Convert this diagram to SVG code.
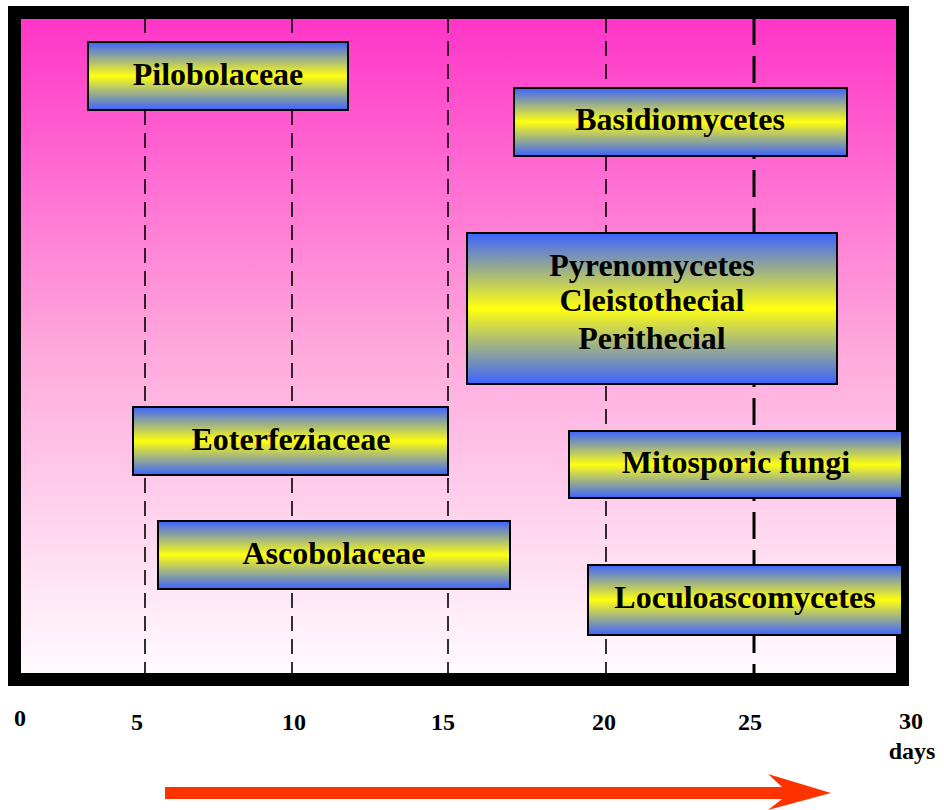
<svg xmlns="http://www.w3.org/2000/svg" width="944" height="810" viewBox="0 0 944 810">
<defs>
<linearGradient id="bg" x1="0" y1="0" x2="0" y2="1">
<stop offset="0" stop-color="#ff33c8"/>
<stop offset="0.5" stop-color="#ffa8dc"/>
<stop offset="1" stop-color="#fffdfe"/>
</linearGradient>
<linearGradient id="box" x1="0" y1="0" x2="0" y2="1">
<stop offset="0" stop-color="#3c62ff"/>
<stop offset="0.5" stop-color="#ffff10"/>
<stop offset="1" stop-color="#3c62ff"/>
</linearGradient>
<style>
.grid{stroke:#000;stroke-width:1.6;stroke-dasharray:15 8;fill:none}
.grid25{stroke:#000;stroke-width:3;stroke-dasharray:27 11;fill:none}
.node rect{fill:url(#box);stroke:#000;stroke-width:2}
.node text{font-family:"Liberation Serif","Times New Roman",serif;font-weight:bold;font-size:32px;text-anchor:middle;fill:#000}
.axis{font-family:"Liberation Serif","Times New Roman",serif;font-weight:bold;font-size:24px;text-anchor:middle;fill:#000}
</style>
</defs>
<rect x="14" y="12" width="889" height="668" fill="url(#bg)"/>
<g id="gridlines">
<line class="grid" x1="145" y1="18" x2="145" y2="674"/>
<line class="grid" x1="292" y1="18" x2="292" y2="674"/>
<line class="grid" x1="448" y1="18" x2="448" y2="674"/>
<line class="grid" x1="606" y1="18" x2="606" y2="674"/>
<line class="grid25" x1="754" y1="18" x2="754" y2="674"/>
</g>
<rect id="frame" x="14.5" y="12.5" width="888" height="667" fill="none" stroke="#000" stroke-width="13"/>
<g id="pilobolaceae" class="node"><rect x="88" y="42" width="260" height="68"/><text x="218" y="85">Pilobolaceae</text></g>
<g id="basidiomycetes" class="node"><rect x="514" y="88" width="333" height="68"/><text x="680" y="130">Basidiomycetes</text></g>
<g id="pyrenomycetes" class="node"><rect x="467" y="233" width="370" height="151"/><text x="652" y="276">Pyrenomycetes</text><text x="652" y="311">Cleistothecial</text><text x="652" y="349">Perithecial</text></g>
<g id="eoterfeziaceae" class="node"><rect x="133" y="407" width="315" height="68"/><text x="291" y="450">Eoterfeziaceae</text></g>
<g id="mitosporic" class="node"><rect x="569" y="431" width="333" height="67"/><text x="736" y="473">Mitosporic fungi</text></g>
<g id="ascobolaceae" class="node"><rect x="158" y="521" width="352" height="68"/><text x="334" y="564">Ascobolaceae</text></g>
<g id="loculoascomycetes" class="node"><rect x="588" y="565" width="314" height="70"/><text x="745" y="608">Loculoascomycetes</text></g>
<g id="axis">
<text class="axis" x="20" y="726">0</text>
<text class="axis" x="137" y="730">5</text>
<text class="axis" x="294" y="730">10</text>
<text class="axis" x="443" y="730">15</text>
<text class="axis" x="604" y="730">20</text>
<text class="axis" x="750" y="730">25</text>
<text class="axis" x="911" y="729">30</text>
<text class="axis" x="912" y="759">days</text>
</g>
<g id="arrow">
<polygon points="165,787 782,787 768,774 831,793 768,810 782,799 165,799" fill="#ff3300"/>
</g>
</svg>
